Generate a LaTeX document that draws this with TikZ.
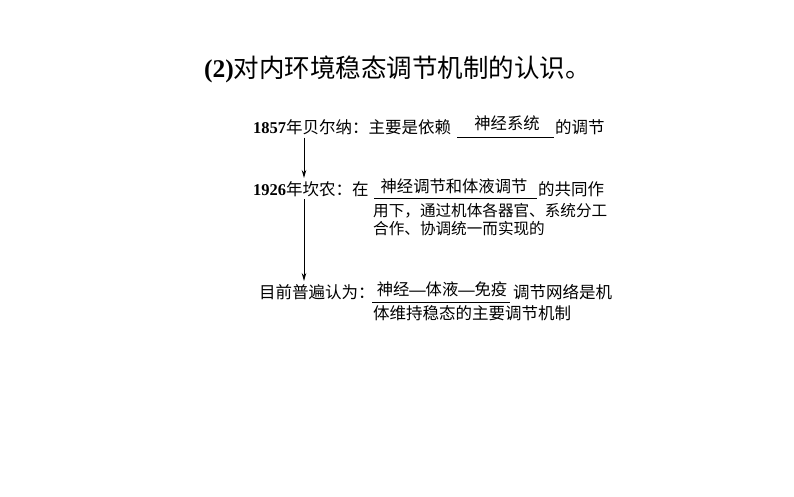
\documentclass[tikz,border=0pt]{standalone}
\usepackage{fontspec}
\setmainfont{Liberation Serif}
\newfontfamily\cjk{Noto Sans CJK SC}
\usetikzlibrary{arrows.meta}
\newcommand{\dsh}{{\rmfamily\bfseries —}}
\begin{document}
\begin{tikzpicture}[x=1pt,y=-1pt,
  txt/.style={inner sep=0pt,anchor=base west,font=\fontsize{16.5}{20}\selectfont},
  txtn/.style={inner sep=0pt,anchor=base west,font=\fontsize{15.6}{20}\selectfont},
  ans/.style={inner sep=0pt,anchor=base,font=\fontsize{16.3}{20}\selectfont\cjk},
  uline/.style={line width=0.9pt},
  flow/.style={line width=0.9pt,-{Stealth[length=8pt,width=4.5pt]}}]
\useasboundingbox (0,0) rectangle (794,496);
% title
\node[inner sep=0pt,anchor=base west,font=\fontsize{25.5}{30}\selectfont] (title) at (204,77.5)
  {\textbf{(2)}{\cjk 对内环境稳态调节机制的认识。}};
% line 1
\node[txt] (l1a) at (253,133) {\textbf{1857}{\cjk 年贝尔纳：主要是依赖}};
\coordinate (u1a) at (457,137.5);
\coordinate (u1b) at (554,137.5);
\draw[uline] (u1a) -- (u1b);
\node[ans] (ans1) at (507,129.5) {神经系统};
\node[txt] (l1b) at (555,133) {\cjk 的调节};
% line 2
\node[txt] (l2a) at (253,195.5) {\textbf{1926}{\cjk 年坎农：在}};
\coordinate (u2a) at (374,198.5);
\coordinate (u2b) at (537,198.5);
\draw[uline] (u2a) -- (u2b);
\node[ans] (ans2) at (454,192.5) {神经调节和体液调节};
\node[txt] (l2b) at (538,195.5) {\cjk 的共同作};
\node[txtn] (l2c) at (373,216.5) {\cjk 用下，通过机体各器官、系统分工};
\node[txtn] (l2d) at (373,234.5) {\cjk 合作、协调统一而实现的};
% line 3
\node[txt] (l3a) at (259,298.5) {\cjk 目前普遍认为：};
\coordinate (u3a) at (372,302.5);
\coordinate (u3b) at (510,302.5);
\draw[uline] (u3a) -- (u3b);
\node[ans] (ans3) at (442,295) {神经\dsh 体液\dsh 免疫};
\node[txt] (l3b) at (513,298.5) {\cjk 调节网络是机};
\node[txt] (l3c) at (373,319) {\cjk 体维持稳态的主要调节机制};
% arrows
\coordinate (a1s) at (304,137.5);
\coordinate (a1e) at (304,178);
\coordinate (a2s) at (304,199);
\coordinate (a2e) at (304,281);
\draw[flow] (a1s) -- (a1e);
\draw[flow] (a2s) -- (a2e);
\end{tikzpicture}
\end{document}
